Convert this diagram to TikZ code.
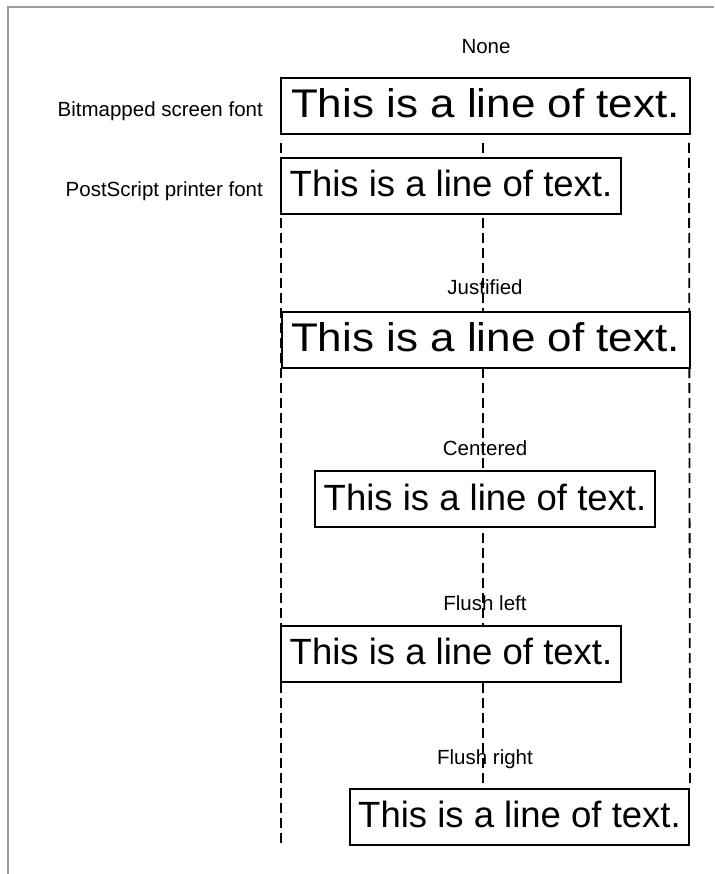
\documentclass[tikz,border=0pt]{standalone}
\usepackage{fontspec}
\setmainfont{Liberation Sans}
\usepackage{graphicx}
\usetikzlibrary{backgrounds}
\definecolor{framegray}{RGB}{155,155,155}
\tikzset{
  linebox/.style={draw,fill=white,line width=2pt,inner sep=0pt,minimum height=56pt,text height=25pt,text depth=3pt},
  guide/.style={line width=1.8pt,dash pattern=on 10pt off 5pt},
  tag/.style={font=\fontsize{20.5}{24}\selectfont,inner sep=0pt}
}
\newcommand{\screenline}{\fontsize{40}{44}\selectfont\scalebox{1.1}[1]{This is a line of text.}}
\newcommand{\printline}{\fontsize{36.5}{40}\selectfont This is a line of text.}

\begin{document}
\begin{tikzpicture}[x=1pt,y=-1pt]
\useasboundingbox (0,0) rectangle (714,874);
\draw[framegray,line width=2pt] (8,874) |- (714,7);
% screen font against printer font
\node[tag] (none) at (486,47) {None};
\node[linebox,minimum width=409pt] (b1) at (485.5,106.5) {\screenline};
\node[tag,anchor=base east] (bitmap) at (263,117) {Bitmapped screen font};
\node[linebox,minimum width=340pt] (b2) at (451,186) {\printline};
\node[tag,anchor=base east] (ps) at (263,197) {PostScript printer font};
% the four alignments
\foreach \n/\lab/\ly/\bx/\by/\w/\txt in {just/Justified/287/485.5/340/408/\screenline,cent/Centered/448/485/499/340/\printline,left/Flush left/603/451/653.5/340/\printline,right/Flush right/759/519.5/816.5/339/\printline}
  {\node[tag] (\n lab) at (485,\ly) {\lab};
   \node[linebox,minimum width=\w pt] (\n) at (\bx,\by) {\txt};}
\coordinate (gl) at (281,143);
\coordinate (gm) at (483,143);
\coordinate (gr) at (689,143);
\coordinate (bl) at (281,847);
\begin{pgfonlayer}{background}
\draw[guide] (gl) -- (bl);
\draw[guide] (gm) -- (gm |- right.north);
\draw[guide] (gr) -- (right.north east);
\end{pgfonlayer}
\end{tikzpicture}
\end{document}
